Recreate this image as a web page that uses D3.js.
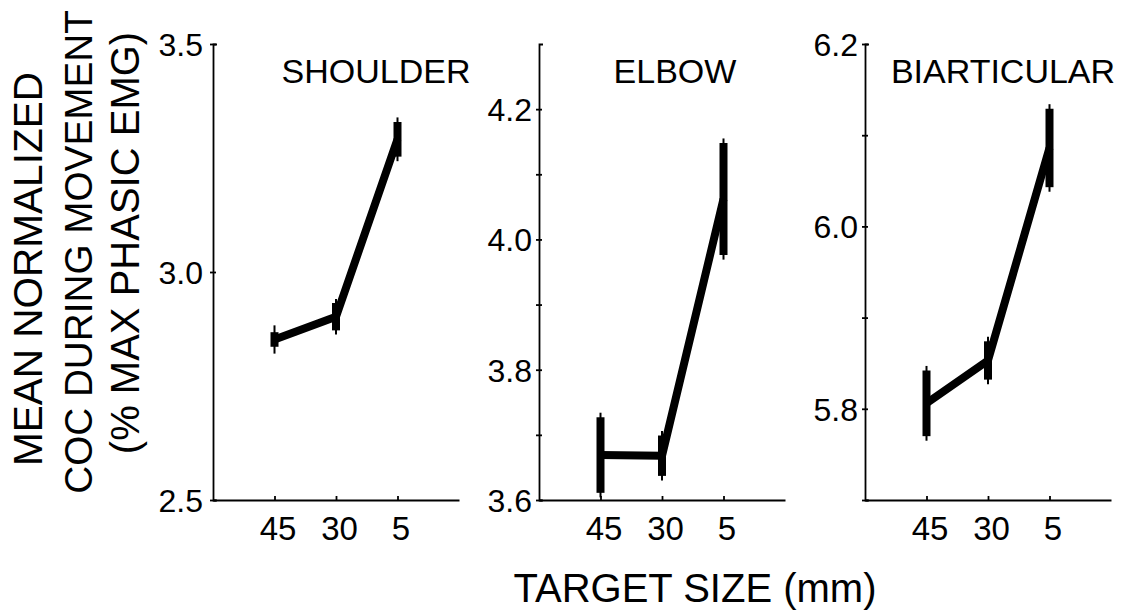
<!DOCTYPE html>
<html>
<head>
<meta charset="utf-8">
<script src="https://cdn.jsdelivr.net/npm/d3@7"></script>
<style>
  html, body { margin: 0; padding: 0; background: #fff; }
  svg { display: block; }
  text { font-family: "Liberation Sans", Arial, Helvetica, sans-serif; fill: #000; }
</style>
</head>
<body>
<svg id="chart" width="1125" height="612"></svg>
<script>
// ---- Data ----
const categories = ["45", "30", "5"];
const panelTitles = ["SHOULDER", "ELBOW", "BIARTICULAR"];

const shoulderMean    = [2.852, 2.902, 3.291];
const shoulderErr     = [0.016, 0.030, 0.038];
const shoulderWhisker = [0.031, 0.039, 0.048];

const elbowMean    = [3.669, 3.668, 4.062];
const elbowErr     = [0.058, 0.031, 0.086];
const elbowWhisker = [0.065, 0.038, 0.093];

const biartMean    = [5.806, 5.853, 6.086];
const biartErr     = [0.036, 0.021, 0.043];
const biartWhisker = [0.041, 0.026, 0.048];

const shoulderDomain = [2.5, 3.5];
const elbowDomain    = [3.6, 4.3];
const biartDomain    = [5.7, 6.2];

const shoulderTicks = [2.5, 3.0, 3.5];
const elbowTicks    = [3.6, 3.7, 3.8, 3.9, 4.0, 4.1, 4.2];
const biartTicks    = [5.7, 5.8, 5.9, 6.0, 6.1, 6.2];

const shoulderLabels = ["2.5", "3.0", "3.5"];
const elbowLabels    = ["3.6", "", "3.8", "", "4.0", "", "4.2"];
const biartLabels    = ["", "5.8", "", "6.0", "", "6.2"];

const yTitleLines = ["MEAN NORMALIZED", "COC DURING MOVEMENT", "(% MAX PHASIC EMG)"];
const xTitle = "TARGET SIZE (mm)";

// ---- Layout ----
const svg = d3.select("#chart");
svg.append("rect").attr("width", 1125).attr("height", 612).attr("fill", "#fff");

const plotTop = 44, plotBottom = 500, plotW = 246;
const panels = [
  { left: 213, title: panelTitles[0], titleX: 163, mean: shoulderMean, err: shoulderErr, wh: shoulderWhisker,
    domain: shoulderDomain, ticks: shoulderTicks, labels: shoulderLabels, labelGap: 10 },
  { left: 539, title: panelTitles[1], titleX: 136, mean: elbowMean, err: elbowErr, wh: elbowWhisker,
    domain: elbowDomain, ticks: elbowTicks, labels: elbowLabels, labelGap: 7 },
  { left: 865, title: panelTitles[2], titleX: 138, mean: biartMean, err: biartErr, wh: biartWhisker,
    domain: biartDomain, ticks: biartTicks, labels: biartLabels, labelGap: 7 }
];

const x = d3.scaleLinear().domain([0, 4]).range([0, plotW]);

panels.forEach(p => {
  const g = svg.append("g").attr("transform", `translate(${p.left},0)`);
  const y = d3.scaleLinear().domain(p.domain).range([plotBottom, plotTop]);

  // Y axis
  const yAxis = d3.axisLeft(y)
    .tickValues(p.ticks)
    .tickFormat((d, i) => p.labels[i])
    .tickSizeInner(3)
    .tickSizeOuter(-4);
  const ya = g.append("g").call(yAxis);
  ya.select(".domain").attr("stroke", "#000").attr("stroke-width", 1.8);
  ya.selectAll(".tick line").attr("x1", 3).attr("x2", -3).attr("stroke", "#000").attr("stroke-width", 1.8);
  ya.selectAll(".tick text")
    .attr("x", -p.labelGap)
    .attr("dy", "0.36em")
    .style("font-size", "32px")
    .style("font-family", '"Liberation Sans", Arial, Helvetica, sans-serif')
    .attr("fill", "#000");

  // X axis
  const xAxis = d3.axisBottom(x)
    .tickValues([1, 2, 3])
    .tickFormat((d, i) => categories[i])
    .tickSizeInner(-4)
    .tickSizeOuter(0)
    .tickPadding(17);
  const xa = g.append("g").attr("transform", `translate(0,${plotBottom})`).call(xAxis);
  xa.select(".domain").attr("stroke", "#000").attr("stroke-width", 1.8);
  xa.selectAll(".tick line").attr("stroke", "#000").attr("stroke-width", 1.8);
  xa.selectAll(".tick text")
    .attr("dx", 3)
    .style("font-size", "33px")
    .style("font-family", '"Liberation Sans", Arial, Helvetica, sans-serif')
    .attr("fill", "#000");

  // Title
  g.append("text")
    .attr("x", p.titleX)
    .attr("y", 83)
    .attr("text-anchor", "middle")
    .style("font-size", "34px")
    .text(p.title);

  const pts = p.mean.map((m, i) => ({ i: i + 1, m, e: p.err[i], w: p.wh[i] }));

  // thin whiskers
  g.selectAll(".wh").data(pts).enter().append("line")
    .attr("x1", d => x(d.i)).attr("x2", d => x(d.i))
    .attr("y1", d => y(d.m - d.w)).attr("y2", d => y(d.m + d.w))
    .attr("stroke", "#000").attr("stroke-width", 2);

  // thick error bars
  g.selectAll(".eb").data(pts).enter().append("line")
    .attr("x1", d => x(d.i)).attr("x2", d => x(d.i))
    .attr("y1", d => y(d.m - d.e)).attr("y2", d => y(d.m + d.e))
    .attr("stroke", "#000").attr("stroke-width", 8);

  // mean line
  const line = d3.line().x(d => x(d.i)).y(d => y(d.m));
  g.append("path").datum(pts)
    .attr("d", line)
    .attr("fill", "none")
    .attr("stroke", "#000")
    .attr("stroke-width", 8)
    .attr("stroke-linejoin", "round")
    .attr("stroke-linecap", "butt");
});

// Y title (rotated, three lines)
const yCenters = [269, 252, 243];
const yBaselines = [42, 92, 139];
const ySizes = [40.5, 38.7, 40];
yTitleLines.forEach((t, i) => {
  svg.append("text")
    .attr("transform", `translate(${yBaselines[i]},${yCenters[i]}) rotate(-90)`)
    .attr("text-anchor", "middle")
    .style("font-size", ySizes[i] + "px")
    .text(t);
});

// X title
svg.append("text")
  .attr("x", 695)
  .attr("y", 602)
  .attr("text-anchor", "middle")
  .style("font-size", "40px")
  .text(xTitle);
</script>
</body>
</html>
